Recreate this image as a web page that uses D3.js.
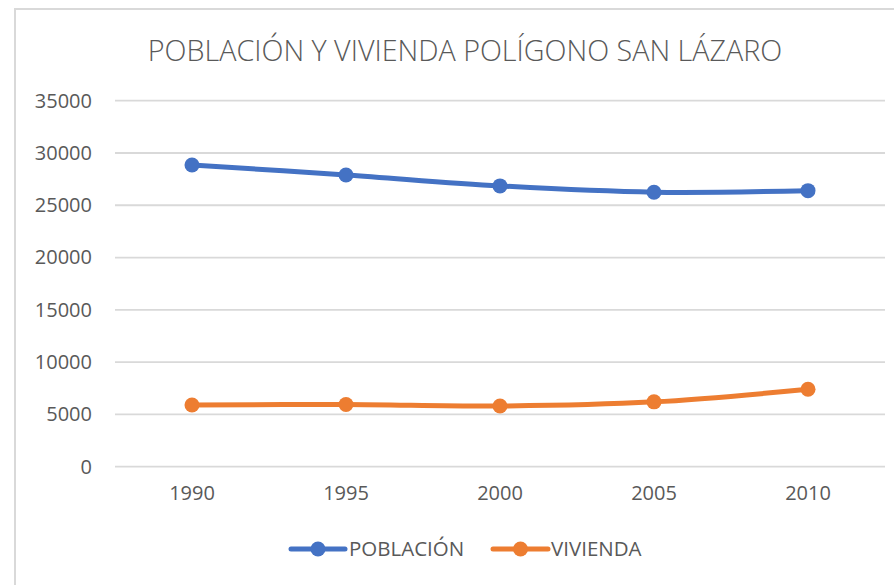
<!DOCTYPE html>
<html>
<head>
<meta charset="utf-8">
<script src="https://cdn.jsdelivr.net/npm/d3@7"></script>
<style>
  html, body { margin: 0; padding: 0; background: #fff; }
  svg { display: block; font-family: "Open Sans", "Liberation Sans", sans-serif; }
</style>
</head>
<body>
<svg id="chart" width="894" height="585"></svg>
<script>
// Census years and series
const years = ["1990", "1995", "2000", "2005", "2010"];
const poblacion = [28850, 27900, 26850, 26250, 26400];
const vivienda = [5900, 5950, 5800, 6200, 7400];
const yTicks = [0, 5000, 10000, 15000, 20000, 25000, 30000, 35000];
const title = "POBLACIÓN Y VIVIENDA POLÍGONO SAN LÁZARO";
const seriesNames = ["POBLACIÓN", "VIVIENDA"];
const seriesColors = ["#4472C4", "#ED7D31"];

const svg = d3.select("#chart");
const textColor = "#595959";
const gridColor = "#d9d9d9";

svg.append("rect").attr("width", 894).attr("height", 585).attr("fill", "#fff");

// chart area frame (left and top edges visible)
svg.append("path")
  .attr("d", "M15,590 L15,9 L900,9")
  .attr("fill", "none")
  .attr("stroke", gridColor)
  .attr("stroke-width", 2);

const x = d3.scaleBand().domain(years).range([115, 885]).padding(0);
const y = d3.scaleLinear().domain([0, 35000]).range([466.7, 100.7]);

// gridlines
svg.append("g").selectAll("line").data(yTicks).join("line")
  .attr("x1", 115).attr("x2", 885)
  .attr("y1", d => y(d)).attr("y2", d => y(d))
  .attr("stroke", gridColor).attr("stroke-width", 1.8);

// y axis labels
const yAxis = d3.axisLeft(y).tickValues(yTicks).tickSize(0).tickPadding(0).tickFormat(d3.format("d"));
const yg = svg.append("g").attr("transform", "translate(92,0)").call(yAxis);
yg.select(".domain").remove();
yg.selectAll("text").attr("fill", textColor).attr("font-size", 20).attr("font-family", "'Open Sans', sans-serif");

// x axis labels
const xAxis = d3.axisBottom(x).tickSize(0).tickPadding(0);
const xg = svg.append("g").attr("transform", "translate(0,486)").call(xAxis);
xg.select(".domain").remove();
xg.selectAll("text").attr("fill", textColor).attr("font-size", 20).attr("font-family", "'Open Sans', sans-serif");

// title
svg.append("text")
  .attr("x", 465).attr("y", 61)
  .attr("text-anchor", "middle")
  .attr("fill", textColor)
  .attr("font-size", 28.7)
  .attr("font-weight", 300)
  .text(title);

// series lines and markers
const line = d3.line()
  .x((d, i) => x(years[i]) + x.bandwidth() / 2)
  .y(d => y(d))
  .curve(d3.curveCatmullRom.alpha(0));

[poblacion, vivienda].forEach((vals, s) => {
  const g = svg.append("g");
  g.append("path")
    .attr("d", line(vals))
    .attr("fill", "none")
    .attr("stroke", seriesColors[s])
    .attr("stroke-width", 5)
    .attr("stroke-linecap", "round");
  g.selectAll("circle").data(vals).join("circle")
    .attr("cx", (d, i) => x(years[i]) + x.bandwidth() / 2)
    .attr("cy", d => y(d))
    .attr("r", 7.5)
    .attr("fill", seriesColors[s]);
});

// legend
const legendItems = [
  { x0: 291, x1: 345, tx: 349 },
  { x0: 493, x1: 548, tx: 551 }
];
legendItems.forEach((it, s) => {
  const g = svg.append("g");
  g.append("line")
    .attr("x1", it.x0).attr("x2", it.x1)
    .attr("y1", 549).attr("y2", 549)
    .attr("stroke", seriesColors[s]).attr("stroke-width", 5)
    .attr("stroke-linecap", "round");
  g.append("circle")
    .attr("cx", (it.x0 + it.x1) / 2).attr("cy", 549).attr("r", 7.5)
    .attr("fill", seriesColors[s]);
  g.append("text")
    .attr("x", it.tx).attr("y", 549)
    .attr("dy", "0.35em")
    .attr("fill", textColor)
    .attr("font-size", 20.5)
    .text(seriesNames[s]);
});
</script>
</body>
</html>
